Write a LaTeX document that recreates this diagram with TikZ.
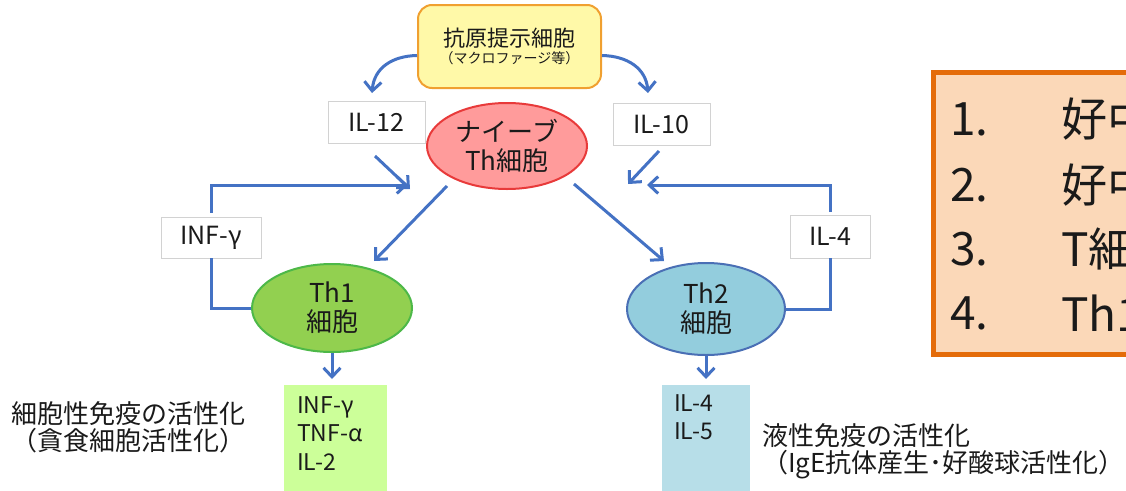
\documentclass[tikz,border=0pt]{standalone}
\usepackage{fontspec}
\setmainfont{Noto Sans CJK JP}
\usetikzlibrary{arrows.meta,shapes.geometric}
\definecolor{arrblue}{HTML}{4472C4}
\definecolor{apcfill}{HTML}{FFF9A8}
\definecolor{apcdraw}{HTML}{F0A030}
\definecolor{nvfill}{HTML}{FF9B9B}
\definecolor{nvdraw}{HTML}{E83A3A}
\definecolor{th1fill}{HTML}{92D050}
\definecolor{th1draw}{HTML}{4DB848}
\definecolor{th2fill}{HTML}{93CDDD}
\definecolor{th2draw}{HTML}{4A6FB5}
\definecolor{gbox}{HTML}{CCFF99}
\definecolor{bbox}{HTML}{B7DEE8}
\definecolor{obox}{HTML}{FBD8B8}
\definecolor{odraw}{HTML}{E46C0A}
\definecolor{txt}{HTML}{1A1A1A}
\begin{document}
\begin{tikzpicture}[x=1pt,y=-1pt,
  every node/.style={text=txt},
  arrline/.style={draw=arrblue, line width=3pt},
  arr/.style={arrline, -{Straight Barb[length=9pt,width=17pt,line width=3pt]}},
  lbl/.style={draw=gray!35, line width=0.8pt, fill=white, inner sep=0pt,
    font=\fontsize{25}{28}\selectfont},
  cell/.style={ellipse, inner sep=0pt, line width=2pt, align=center,
    font=\fontsize{26}{29}\selectfont},
  big/.style={font=\fontsize{26}{27}\selectfont, align=left, inner sep=0pt},
  boxtxt/.style={font=\fontsize{23}{28.5}\selectfont, align=left, inner sep=0pt},
  listtxt/.style={font=\fontsize{46}{50}\selectfont, inner sep=0pt, anchor=west}
]
\useasboundingbox (0,0) rectangle (1126,490);
\clip (0,0) rectangle (1126,490);

% right framed list
\node[draw=odraw, fill=obox, line width=5pt, minimum width=220pt, minimum height=282pt,
      inner sep=0pt, anchor=north west] (list) at (931,70) {};
\node[listtxt] (n1) at (950,119) {1.};
\node[listtxt] (n2) at (950,185) {2.};
\node[listtxt] (n3) at (950,249) {3.};
\node[listtxt] (n4) at (950,313) {4.};
\node[listtxt] (l1) at (1061,119) {好中};
\node[listtxt] (l2) at (1061,185) {好中};
\node[listtxt] (l3) at (1061,249) {T細};
\node[listtxt] (l4) at (1061,313) {Th1};

% top box
\node[draw=apcdraw, fill=apcfill, line width=2pt, rounded corners=14pt,
      minimum width=183pt, minimum height=83pt, align=center, inner sep=0pt] (apc) at (509.5,46.5)
      {\fontsize{22}{24}\selectfont 抗原提示細胞\\[3pt]\fontsize{14}{16}\selectfont （マクロファージ等）};

% cytokine labels
\node[lbl, minimum width=97pt, minimum height=42pt] (il12) at (376.5,122) {IL-12};
\node[lbl, minimum width=97pt, minimum height=42pt] (il10) at (661.5,124) {IL-10};
\node[lbl, minimum width=100pt, minimum height=41pt] (inf) at (211,237.5) {INF-γ};
\node[lbl, minimum width=80pt, minimum height=43pt] (il4) at (830,236.5) {IL-4};

% cells
\node[cell, draw=nvdraw, fill=nvfill, minimum width=160pt, minimum height=86pt] (naive) at (507,146)
      {ナイーブ\\Th細胞};
\node[cell, draw=th1draw, fill=th1fill, minimum width=160pt, minimum height=88pt] (th1) at (332,308)
      {Th1\\細胞};
\node[cell, draw=th2draw, fill=th2fill, minimum width=158pt, minimum height=92pt] (th2) at (706,309)
      {Th2\\細胞};

% output boxes
\node[fill=gbox, minimum width=103pt, minimum height=115pt, inner sep=0pt, anchor=north west] (gb) at (284,385) {};
\node[boxtxt, anchor=north west] (gbt) at (297,396) {INF-γ\\TNF-α\\IL-2};
\node[fill=bbox, minimum width=88pt, minimum height=115pt, inner sep=0pt, anchor=north west] (bb) at (662,385) {};
\node[boxtxt, anchor=north west] (bbt) at (674,394) {IL-4\\IL-5};

% side texts
\node[big, anchor=west] (cim) at (11,427) {細胞性免疫の活性化\\（貪食細胞活性化）};
\node[big, anchor=west] (him) at (762,451) {液性免疫の活性化\\（IgE抗体産生･好酸球活性化）};

% arrow coordinates
\coordinate (s12) at (375,156);
\coordinate (e12) at (410,189);
\coordinate (s10) at (659,151);
\coordinate (e10) at (628,184);
\coordinate (t12) at (372,93);
\coordinate (t10) at (648,93);
\coordinate (ns1) at (447,186);
\coordinate (ne1) at (374,261);
\coordinate (ns2) at (574,184);
\coordinate (ne2) at (664,261);
\coordinate (tinf) at (408,185);
\coordinate (til4) at (647,185);
\coordinate (o1) at (332,379);
\coordinate (o2) at (706,379);

% connectors
\draw[arr] ([yshift=-9pt]apc.west) .. controls (392,56) and (374,68) .. (t12);
\draw[arr] ([yshift=-9pt]apc.east) .. controls (627,56) and (646,68) .. (t10);
\draw[arr] (s12) -- (e12);
\draw[arr] (s10) -- (e10);
\draw[arr] (ns1) -- (ne1);
\draw[arr] (ns2) -- (ne2);
\draw[arrline] (th1.west) -| (inf.south);
\draw[arr] ([yshift=4pt]inf.north) |- (tinf);
\draw[arrline] (th2.east) -| (il4.south);
\draw[arr] ([yshift=3pt]il4.north) |- (til4);
\draw[arr] (th1.south) -- (o1);
\draw[arr] (th2.south) -- (o2);
\end{tikzpicture}
\end{document}
